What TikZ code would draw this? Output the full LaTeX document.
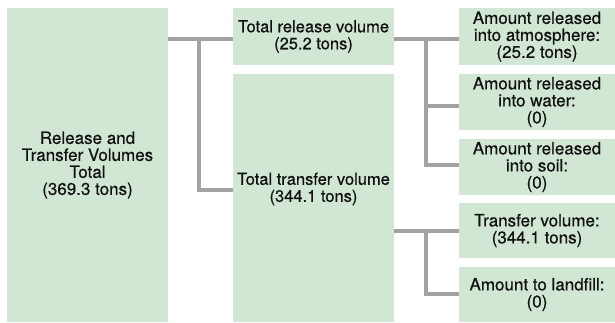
\documentclass[tikz,border=0pt]{standalone}
\usepackage{fontspec}
\setmainfont{TeX Gyre Heros}[FakeBold=0.5]
\definecolor{boxfill}{HTML}{D1E7D3}
\definecolor{linkgray}{HTML}{A3A3A3}
\definecolor{txt}{HTML}{111111}
\begin{document}
\begin{tikzpicture}[x=1pt,y=1pt,
  box/.style={fill=boxfill, draw=none, inner sep=0pt, align=center, text=txt,
    font=\fontsize{17}{17}\selectfont},
  midfont/.style={font=\fontsize{16.5}{17}\selectfont},
  lbl/.style={inner sep=0pt, align=center, text=txt},
  link/.style={draw=linkgray, line width=4pt, line join=miter}]
\useasboundingbox (0,0) rectangle (615,-322);
% boxes
\node[box, minimum width=161pt, minimum height=314pt] (L) at (87.5,-165)
  {Release and\\Transfer Volumes\\Total\\(369.3 tons)};
\node[box, midfont, minimum width=161pt, minimum height=57pt] (M1) at (313.5,-36.5)
  {Total release volume\\(25.2 tons)};
\node[box, minimum width=161pt, minimum height=248pt] (M2) at (313.5,-198) {};
\node[lbl, midfont] (M2t) at (313.5,-189) {Total transfer volume\\(344.1 tons)};
\node[box, minimum width=156pt, minimum height=57pt] (R1) at (537,-36.5)
  {Amount released\\into atmosphere:\\(25.2 tons)};
\node[box, minimum width=156pt, minimum height=56pt] (R2) at (537,-102)
  {Amount released\\into water:\\(0)};
\node[box, minimum width=156pt, minimum height=56pt] (R3) at (537,-167)
  {Amount released\\into soil:\\(0)};
\node[box, minimum width=156pt, minimum height=55pt] (R4) at (537,-230.5)
  {Transfer volume:\\(344.1 tons)};
\node[box, minimum width=156pt, minimum height=55pt] (R5) at (537,-294.5)
  {Amount to landfill:\\(0)};
% junction points
\coordinate (j1) at (199,-39);
\coordinate (j2) at (426,-39);
\coordinate (j3) at (426,-231);
% connectors
\draw[link] (L.east |- 0,-39) -- (M1.west |- 0,-39);
\draw[link] (j1) |- (M2.west |- 0,-190);
\draw[link] (M1.east |- 0,-39) -- (R1.west |- 0,-39);
\draw[link] (j2) |- (R2.west |- 0,-106);
\draw[link] (j2) |- (R3.west |- 0,-165);
\draw[link] (M2.east |- 0,-231) -- (R4.west |- 0,-231);
\draw[link] (j3) |- (R5.west |- 0,-294);
\end{tikzpicture}
\end{document}
